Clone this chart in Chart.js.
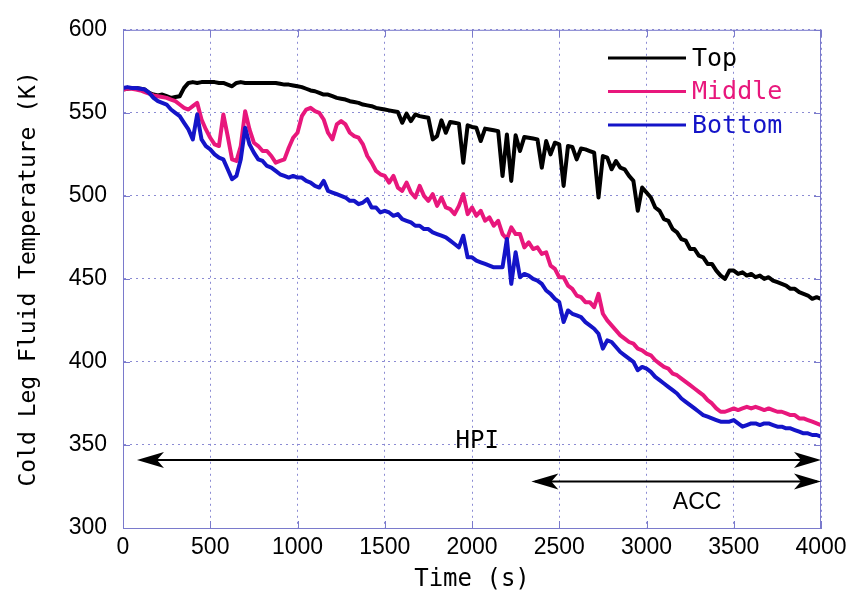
<!DOCTYPE html>
<html>
<head>
<meta charset="utf-8">
<script src="https://cdn.jsdelivr.net/npm/chart.js@4.4.1/dist/chart.umd.min.js"></script>
<style>
  body { margin: 0; background: #fff; }
  #wrap { width: 857px; height: 596px; }
</style>
</head>
<body>
<div id="wrap"><canvas id="tempChart" width="857" height="596"></canvas></div>
<script>
// time axis (s), one sample every 25 s
const times = [
    0, 25, 50, 75, 100, 125, 150, 175, 200, 225,
    250, 275, 300, 325, 350, 375, 400, 425, 450, 475,
    500, 525, 550, 575, 600, 625, 650, 675, 700, 725,
    750, 775, 800, 825, 850, 875, 900, 925, 950, 975,
    1000, 1025, 1050, 1075, 1100, 1125, 1150, 1175, 1200, 1225,
    1250, 1275, 1300, 1325, 1350, 1375, 1400, 1425, 1450, 1475,
    1500, 1525, 1550, 1575, 1600, 1625, 1650, 1675, 1700, 1725,
    1750, 1775, 1800, 1825, 1850, 1875, 1900, 1925, 1950, 1975,
    2000, 2025, 2050, 2075, 2100, 2125, 2150, 2175, 2200, 2225,
    2250, 2275, 2300, 2325, 2350, 2375, 2400, 2425, 2450, 2475,
    2500, 2525, 2550, 2575, 2600, 2625, 2650, 2675, 2700, 2725,
    2750, 2775, 2800, 2825, 2850, 2875, 2900, 2925, 2950, 2975,
    3000, 3025, 3050, 3075, 3100, 3125, 3150, 3175, 3200, 3225,
    3250, 3275, 3300, 3325, 3350, 3375, 3400, 3425, 3450, 3475,
    3500, 3525, 3550, 3575, 3600, 3625, 3650, 3675, 3700, 3725,
    3750, 3775, 3800, 3825, 3850, 3875, 3900, 3925, 3950, 3975,
    4000
];

// Cold leg fluid temperature (K)
const topTemp = [
    564, 564.5, 565, 565, 564.5, 564, 562, 561, 560.5, 561,
    560, 559, 559.5, 560, 565, 568, 568.5, 568, 568.5, 568.5,
    568.5, 568.5, 568, 568, 567, 566, 568, 568.5, 568, 568,
    568, 568, 568, 568, 568, 568, 567.5, 567, 567, 566.5,
    566, 565.5, 564.5, 563.5, 563, 562, 561, 561, 560, 559,
    558.5, 558, 557, 556.5, 556, 555, 554.5, 554, 553, 552.5,
    552, 551.5, 551, 550.5, 544, 549.5, 545, 549, 548, 547.5,
    547, 534, 536, 545.5, 538, 544.5, 544, 543.5, 520, 542.5,
    541.5, 541, 533, 540.5, 540, 539.5, 539, 512, 537, 509,
    536.5, 527, 535.5, 535, 534.5, 534, 517, 533, 525, 532,
    531, 506, 530, 529.5, 522, 528.5, 528, 527, 526, 499,
    524, 523, 516, 521, 517, 516, 512, 509, 491, 505,
    502, 499, 493, 491, 486, 485, 480, 478, 474, 473,
    468, 468, 464, 463, 459, 459, 455, 452, 450, 455,
    455, 453, 454, 452, 453, 451, 452, 450, 451, 449,
    448, 447, 446, 444, 444, 442, 441, 440, 438, 439,
    438
];

const middleTemp = [
    564, 564.5, 564.5, 564, 563.5, 562.5, 561.5, 560.5, 560, 559.5,
    559, 558, 557, 555, 553, 552, 554, 556, 546, 540,
    535, 531, 530, 549, 536, 522, 521, 530, 551, 540,
    532, 530, 527, 527, 524, 520, 521, 522, 529, 535,
    538, 548, 552, 553, 551, 550, 546, 538, 534, 543,
    545, 543, 538, 536, 535, 531, 524, 520, 515, 513,
    512, 508, 512, 505, 503, 508, 502, 499, 506, 500,
    497, 501, 494, 499, 493, 492, 489, 494, 501, 489,
    493, 488, 491, 485, 487, 482, 485, 477, 474, 481,
    477, 477, 469, 472, 468, 469, 465, 466, 458, 456,
    451, 451, 446, 444, 440, 439, 436, 436, 433, 441,
    429, 425, 422, 419, 416, 414, 412, 411, 408, 407,
    405, 404, 401, 399, 397, 396, 393, 392, 390, 388,
    386, 384, 382, 380, 377, 375, 372, 370, 370, 371,
    372, 371, 372, 373, 372, 373, 372, 371, 372, 371,
    370, 370, 369, 368, 368, 366, 366, 365, 364, 363,
    362
];

const bottomTemp = [
    565, 565.5, 565, 565, 564.5, 564, 562, 559, 557, 556,
    555, 552, 550, 548, 544, 540, 534, 549, 534, 530,
    528, 525, 523, 522, 516, 510, 512, 522, 541, 531,
    526, 522, 521, 518, 517, 515, 513, 512, 511, 512,
    511, 511, 509, 508, 506, 505, 509, 503, 502, 501,
    500, 499, 497, 497, 495, 496, 498, 493, 493, 490,
    491, 490, 488, 489, 486, 485, 484, 482, 482, 480,
    480, 478, 477, 476, 475, 473, 471, 469, 476, 463,
    463, 461, 460, 459, 458, 457, 457, 457, 474, 447,
    466, 451, 453, 452, 450, 449, 447, 443, 441, 438,
    436, 424, 431, 429, 428, 427, 424, 422, 420, 417,
    408, 413, 412, 409, 406, 404, 402, 400, 395, 397,
    396, 394, 391, 389, 387, 385, 383, 381, 378, 376,
    374, 372, 370, 368, 367, 366, 365, 364, 364, 364,
    365, 363, 361, 362, 363, 363, 362, 363, 363, 362,
    361, 361, 360, 360, 359, 358, 357, 357, 356, 356,
    355
];

const seriesNames = ['Top', 'Middle', 'Bottom'];
const seriesColors = ['#000000', '#e8177c', '#1414c8'];

// HPI / ACC injection periods (time span, temperature level of the arrow)
const arrowLabels = ['HPI', 'ACC'];
const arrowStart = [80, 2340];
const arrowEnd = [4000, 4000];
const arrowLevel = [341, 328];
const arrowTextPos = [[2030, 352], [3290, 315]];

const monoFont = '"DejaVu Sans Mono", "Liberation Mono", monospace';
const sansFont = '"Liberation Sans", Arial, sans-serif';
const frameColor = '#7a7acc';

function toPoints(values) {
    return values.map((v, i) => ({ x: times[i], y: v }));
}

// inner ticks, top/right frame, arrows, labels and the legend
const decorPlugin = {
    id: 'decor',
    afterDraw(chart) {
        const ctx = chart.ctx;
        const xs = chart.scales.x;
        const ys = chart.scales.y;
        const area = chart.chartArea;
        ctx.save();

        // frame
        ctx.strokeStyle = frameColor;
        ctx.lineWidth = 1;
        ctx.strokeRect(area.left + 0.5, area.top + 0.5, area.right - area.left - 1, area.bottom - area.top);
        // inner tick marks
        ctx.beginPath();
        xs.ticks.forEach(t => {
            const px = Math.round(xs.getPixelForValue(t.value)) + 0.5;
            ctx.moveTo(px, area.bottom); ctx.lineTo(px, area.bottom - 7);
            ctx.moveTo(px, area.top); ctx.lineTo(px, area.top + 7);
        });
        ys.ticks.forEach(t => {
            const py = Math.round(ys.getPixelForValue(t.value)) + 0.5;
            ctx.moveTo(area.left, py); ctx.lineTo(area.left + 7, py);
            ctx.moveTo(area.right, py); ctx.lineTo(area.right - 7, py);
        });
        ctx.stroke();

        // arrows
        ctx.strokeStyle = '#000';
        ctx.fillStyle = '#000';
        ctx.lineWidth = 2;
        arrowLabels.forEach((label, i) => {
            const x0 = xs.getPixelForValue(arrowStart[i]);
            const x1 = xs.getPixelForValue(arrowEnd[i]);
            const y = ys.getPixelForValue(arrowLevel[i]);
            ctx.beginPath();
            ctx.moveTo(x0 + 4, y); ctx.lineTo(x1 - 4, y);
            ctx.stroke();
            [[x0, 1], [x1, -1]].forEach(([tip, dir]) => {
                ctx.beginPath();
                ctx.moveTo(tip, y);
                ctx.lineTo(tip + dir * 27, y - 8);
                ctx.lineTo(tip + dir * 20, y);
                ctx.lineTo(tip + dir * 27, y + 8);
                ctx.closePath();
                ctx.fill();
            });
            ctx.font = i === 0 ? '24px ' + monoFont : '23px ' + sansFont;
            ctx.textAlign = 'center';
            ctx.textBaseline = 'middle';
            ctx.fillText(label, xs.getPixelForValue(arrowTextPos[i][0]), ys.getPixelForValue(arrowTextPos[i][1]));
        });

        // legend
        ctx.font = '25px ' + monoFont;
        ctx.textAlign = 'left';
        ctx.textBaseline = 'middle';
        ctx.lineWidth = 3;
        seriesNames.forEach((name, i) => {
            const y = 58 + i * 33.5;
            ctx.strokeStyle = seriesColors[i];
            ctx.beginPath();
            ctx.moveTo(608, y); ctx.lineTo(686, y);
            ctx.stroke();
            ctx.fillStyle = seriesColors[i];
            ctx.fillText(name, 692, y + 1);
        });
        ctx.restore();
    }
};

const config = {
    type: 'line',
    data: {
        datasets: [
            { label: seriesNames[0], data: toPoints(topTemp), borderColor: seriesColors[0], order: 3 },
            { label: seriesNames[1], data: toPoints(middleTemp), borderColor: seriesColors[1], order: 2 },
            { label: seriesNames[2], data: toPoints(bottomTemp), borderColor: seriesColors[2], order: 1 }
        ]
    },
    options: {
        responsive: false,
        animation: false,
        devicePixelRatio: 1,
        layout: { padding: { top: 22, right: 36, left: 0, bottom: 0 } },
        elements: {
            line: { borderWidth: 4, tension: 0, borderJoinStyle: 'round' },
            point: { radius: 0 }
        },
        plugins: {
            legend: { display: false },
            tooltip: { enabled: false }
        },
        scales: {
            x: {
                type: 'linear',
                min: 0,
                max: 4000,
                ticks: {
                    stepSize: 500,
                    padding: 6,
                    color: '#000',
                    maxRotation: 0,
                    font: { family: sansFont, size: 23 },
                    callback: value => String(value)
                },
                grid: { color: 'rgba(110, 110, 200, 0.8)', drawTicks: false },
                border: { color: frameColor, dash: [2, 4] },
                title: {
                    display: true,
                    text: 'Time (s)',
                    color: '#000',
                    padding: { top: 0, bottom: 2 },
                    font: { family: monoFont, size: 24 }
                },
                afterFit(scale) { scale.height = 68; }
            },
            y: {
                min: 300,
                max: 600,
                ticks: {
                    stepSize: 50,
                    padding: 16,
                    color: '#000',
                    font: { family: sansFont, size: 23 }
                },
                grid: { color: 'rgba(110, 110, 200, 0.8)', drawTicks: false },
                border: { color: frameColor, dash: [2, 4] },
                title: {
                    display: true,
                    text: 'Cold Leg Fluid Temperature (K)',
                    color: '#000',
                    padding: { top: 15, bottom: 0 },
                    font: { family: monoFont, size: 23 }
                },
                afterFit(scale) { scale.width = 123; }
            }
        }
    },
    plugins: [decorPlugin]
};

const tempChart = new Chart(document.getElementById('tempChart'), config);
</script>
</body>
</html>
